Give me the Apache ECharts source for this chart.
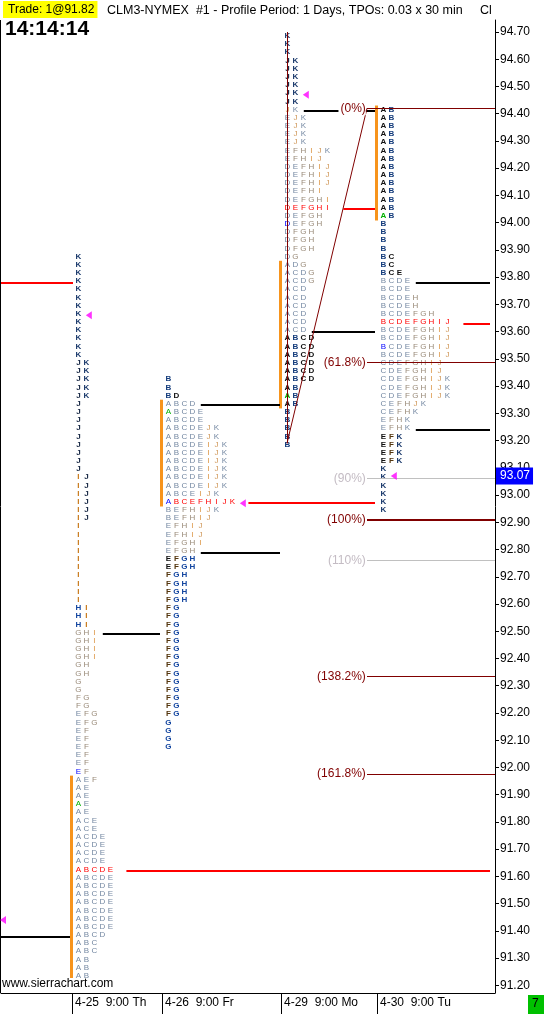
<!DOCTYPE html>
<html>
<head>
<meta charset="utf-8">
<script src="https://cdn.jsdelivr.net/npm/echarts@6/dist/echarts.min.js"></script>
<style>
html, body { margin: 0; padding: 0; background: #fff; }
#echart { width: 545px; height: 1014px; }
</style>
</head>
<body>
<div id="echart"></div>
<script>
var myChart = echarts.init(document.getElementById("echart"));

// price scale labels
var priceTicks = [91.20, 91.30, 91.40, 91.50, 91.60, 91.70, 91.80, 91.90, 92.00, 92.10,
	92.20, 92.30, 92.40, 92.50, 92.60, 92.70, 92.80, 92.90, 93.00, 93.10, 93.20, 93.30,
	93.40, 93.50, 93.60, 93.70, 93.80, 93.90, 94.00, 94.10, 94.20, 94.30, 94.40, 94.50,
	94.60, 94.70];

// session starts (in TPO column units) and their labels
var dayStarts = [8.875, 20.125, 35, 47];
var dayLabels = ['4-25  9:00 Th', '4-26  9:00 Fr', '4-29  9:00 Mo', '4-30  9:00 Tu'];

// top price of each profile, rows go down 0.03 each
var profileTops = [93.87, 93.42, 94.68, 94.41];

var rows0425 = [
	'K', 'K', 'K', 'K', 'K', 'K', 'K', 'K', 'K', 'K', 'K', 'K', 'K',
	'JK', 'JK', 'JK', 'JK', 'JK',
	'J', 'J', 'J', 'J', 'J', 'J', 'J', 'J', 'J',
	'IJ', 'IJ', 'IJ', 'IJ', 'IJ', 'IJ',
	'I', 'I', 'I', 'I', 'I', 'I', 'I', 'I', 'I', 'I',
	'HI', 'HI', 'HI',
	'GHI', 'GHI', 'GHI', 'GHI',
	'GH', 'GH', 'G', 'G', 'FG', 'FG', 'EFG', 'EFG',
	'EF', 'EF', 'EF', 'EF', 'EF', 'EF',
	'AEF', 'AE', 'AE', 'AE', 'AE',
	'ACE', 'ACE',
	'ACDE', 'ACDE', 'ACDE', 'ACDE',
	'ABCDE',
	'ABCDE', 'ABCDE', 'ABCDE', 'ABCDE', 'ABCDE', 'ABCDE', 'ABCDE',
	'ABCD', 'ABC', 'ABC', 'AB', 'AB', 'AB'
];

var rows0426 = [
	'B', 'B', 'BD', 'ABCD', 'ABCDE', 'ABCDE', 'ABCDEJK', 'ABCDEJK',
	'ABCDEIJK', 'ABCDEIJK', 'ABCDEIJK', 'ABCDEIJK', 'ABCDEIJK', 'ABCDEIJK',
	'ABCEIJK', 'ABCEFHIJK',
	'BEFHIJK', 'BEFHIJ', 'EFHIJ', 'EFHIJ', 'EFGHI',
	'EFGH', 'EFGH', 'EFGH',
	'FGH', 'FGH', 'FGH', 'FGH',
	'FG', 'FG', 'FG', 'FG', 'FG', 'FG', 'FG', 'FG', 'FG', 'FG', 'FG', 'FG', 'FG', 'FG',
	'G', 'G', 'G', 'G'
];

var rows0429 = [
	'K', 'K', 'K',
	'JK', 'JK', 'JK', 'JK', 'JK', 'JK', 'JK',
	'EJK', 'EJK', 'EJK', 'EJK',
	'EFHIJK', 'EFHIJ', 'DEFHIJ', 'DEFHIJ', 'DEFHIJ', 'DEFHI',
	'DEFGHI', 'DEFGHI', 'DEFGH', 'DEFGH',
	'DFGH', 'DFGH', 'DFGH', 'DG', 'ADG', 'ACDG', 'ACDG',
	'ACD', 'ACD', 'ACD', 'ACD', 'ACD', 'ACD',
	'ABCD', 'ABCD', 'ABCD', 'ABCD', 'ABCD', 'ABCD',
	'AB', 'AB', 'AB',
	'B', 'B', 'B', 'B', 'B'
];

var rows0430 = [
	'AB', 'AB', 'AB', 'AB', 'AB', 'AB', 'AB', 'AB', 'AB', 'AB', 'AB', 'AB', 'AB', 'AB',
	'B', 'B', 'B', 'B', 'BC', 'BC', 'BCE', 'BCDE', 'BCDE', 'BCDEH', 'BCDEH',
	'BCDEFGH', 'BCDEFGHIJ', 'BCDEFGHIJ', 'BCDEFGHIJ', 'BCDEFGHIJ', 'BCDEFGHIJ',
	'CDEFGHIJ', 'CDEFGHIJ', 'CDEFGHIJK', 'CDEFGHIJK', 'CDEFGHIJK',
	'CEFHJK', 'CEFHK', 'EFHK', 'EFHK',
	'EFK', 'EFK', 'EFK', 'EFK',
	'K', 'K', 'K', 'K', 'K', 'K'
];

var profileRows = [rows0425, rows0426, rows0429, rows0430];

// point of control, value area high / low, close of each profile
var pocs = [91.62, 92.97, 94.05, 93.63];
var vahs = [92.49, 93.33, 94.41, 93.78];
var vals = [91.20, 92.79, 93.60, 93.24];
var closes = [93.66, 92.97, 94.47, 93.07];

// where extension lines stop
var pocEnds = [61.125, 46.75, 46.75, 61.125];
var vaEnds = [19.875, 34.875, 46.75, 61.125];

// marked letters: [profile, price, letter]
var openMarks = [[0, 91.86, 'A'], [1, 93.30, 'A'], [2, 93.36, 'A'], [3, 94.02, 'A']];
var blueMarks = [[0, 91.98, 'E'], [1, 92.97, 'A'], [2, 93.99, 'D'], [3, 93.54, 'B']];

// levels carried over from the session before the chart
var priorPoc = 93.78;
var priorVal = 91.38;
var priorClose = 91.44;

// fib extension drawing: p1, p2, p3 and levels
var fibHigh = 94.70;
var fibLow = 93.19;
var fibAnchor = 94.42;
var fibCols = [35.75, 45.75];
var fibLevels = [0, 61.8, 90, 100, 110, 138.2, 161.8];

var lastPrice = 93.07;

var ROW = 0.03;
var LETTER_OFF = 0.8;
var X_MAX = 61.75;
var FONT = '"Liberation Sans", Arial, sans-serif';

var lightColors = { A: '#7488a2', B: '#7488a2', C: '#7488a2', D: '#7488a2', E: '#7488a2',
	F: '#998a78', G: '#998a78', H: '#998a78', I: '#dc9442', J: '#d0985a', K: '#7488a2' };
var darkColors = { A: '#111111', B: '#143c7c', C: '#111111', D: '#111111', E: '#111111',
	F: '#54360e', G: '#1446a0', H: '#1446a0', I: '#c87818', J: '#1c2c48', K: '#1b3a6c' };

function same(a, b) { return Math.abs(a - b) < 1e-6; }

function findMark(list, p, price, ch) {
	for (var i = 0; i < list.length; i++) {
		if (list[i][0] === p && same(list[i][1], price) && list[i][2] === ch) return true;
	}
	return false;
}

function seg(x1, y1, x2, y2, color, width) {
	return { coords: [[x1, y1], [x2, y2]], lineStyle: { color: color, width: width, opacity: 1 } };
}

var tpoData = [];
var tpoInfo = [];
var lineData = [];
var rowLen = [];

profileRows.forEach(function (rows, p) {
	var lens = {};
	var aTop = null, aBot = null;
	rows.forEach(function (s, r) {
		var price = +(profileTops[p] - r * ROW).toFixed(2);
		lens[price.toFixed(2)] = s.length;
		var outside = price > vahs[p] + 1e-6 || price < vals[p] - 1e-6;
		var isPoc = same(price, pocs[p]);
		if (s.indexOf('A') >= 0) {
			if (aTop === null) aTop = price;
			aBot = price;
		}
		for (var i = 0; i < s.length; i++) {
			var ch = s[i];
			var color = outside ? darkColors[ch] : lightColors[ch];
			var bold = outside;
			if (isPoc) { color = '#ff0000'; bold = false; }
			if (findMark(openMarks, p, price, ch)) color = '#00b000';
			if (findMark(blueMarks, p, price, ch)) color = '#0000ff';
			tpoData.push([dayStarts[p] + LETTER_OFF + i, price]);
			tpoInfo.push({ ch: ch, color: color, bold: bold });
		}
	});
	rowLen.push(lens);

	// opening range bar
	lineData.push(seg(dayStarts[p] - 0.05, aTop + 0.02, dayStarts[p] - 0.05, aBot - 0.012, '#f7941d', 3));
});

function lastCol(p, price) {
	return dayStarts[p] + LETTER_OFF + rowLen[p][price.toFixed(2)] - 1;
}

// extension lines
for (var p = 0; p < 4; p++) {
	lineData.push(seg(lastCol(p, pocs[p]) + 2, pocs[p], pocEnds[p], pocs[p], '#ff0000', 2));
	[vahs[p], vals[p]].forEach(function (lv) {
		if (rowLen[p][lv.toFixed(2)]) {
			lineData.push(seg(lastCol(p, lv) + 1.05, lv, vaEnds[p], lv, '#000000', 2));
		}
	});
}
lineData.push(seg(0, priorPoc, 9, priorPoc, '#ff0000', 2));
lineData.push(seg(0, priorVal, 8.625, priorVal, '#000000', 2));

// fib drawing
var fibRange = fibHigh - fibLow;
var fibLines = [];
fibLines.push(seg(fibCols[0], fibHigh, fibCols[0], fibLow, '#800000', 1));
fibLines.push(seg(fibCols[0], fibLow, fibCols[1], fibAnchor, '#800000', 1));
var fibLabels = [];
fibLevels.forEach(function (lv) {
	var price = fibAnchor - fibRange * lv / 100;
	var grey = (lv === 90 || lv === 110);
	fibLines.push(seg(fibCols[1], price, X_MAX, price, grey ? '#c0c0c0' : '#800000', lv === 100 ? 2 : 1));
	fibLabels.push({ value: [fibCols[1] - 0.15, price], text: '(' + lv + '%)', color: grey ? '#c4bcc4' : '#800000' });
});

// close markers
var closePoints = [[0.25, priorClose]];
for (var q = 0; q < 4; q++) {
	var rp = +(Math.round(closes[q] / ROW) * ROW).toFixed(2);
	closePoints.push([lastCol(q, rp) + 1.3, closes[q]]);
}

option = {
	animation: false,
	grid: { left: 1, right: 50, top: 20, bottom: 21, outerBoundsMode: 'none' },
	xAxis: {
		type: 'value',
		min: 0,
		max: X_MAX,
		axisLine: { show: true, onZero: false, lineStyle: { color: '#000', width: 1 } },
		axisTick: { show: true, customValues: dayStarts, length: 21, inside: false, lineStyle: { color: '#000' } },
		axisLabel: {
			show: true,
			customValues: dayStarts,
			formatter: function (v) {
				for (var i = 0; i < dayStarts.length; i++) {
					if (same(v, dayStarts[i])) return dayLabels[i];
				}
				return '';
			},
			align: 'left',
			padding: [0, 0, 0, 3],
			margin: 4,
			color: '#000',
			fontSize: 12,
			fontFamily: FONT
		},
		splitLine: { show: false }
	},
	yAxis: {
		type: 'value',
		position: 'right',
		min: 91.172,
		max: 94.744,
		axisLine: { show: true, onZero: false, lineStyle: { color: '#000', width: 1 } },
		axisTick: { show: true, customValues: priceTicks, length: 4, lineStyle: { color: '#000' } },
		axisLabel: {
			show: true,
			customValues: priceTicks,
			formatter: function (v) { return v.toFixed(2); },
			margin: 5,
			color: '#000',
			fontSize: 12,
			fontFamily: FONT
		},
		splitLine: { show: false }
	},
	series: [
		{
			type: 'custom',
			name: 'tpo',
			clip: false,
			z: 2,
			data: tpoData,
			encode: { x: 0, y: 1 },
			renderItem: function (params, api) {
				var pt = api.coord([api.value(0), api.value(1)]);
				var info = tpoInfo[params.dataIndex];
				return {
					type: 'text',
					x: pt[0],
					y: pt[1] - 1.5,
					style: {
						text: info.ch,
						fill: info.color,
						font: (info.bold ? 'bold ' : '') + '8px ' + FONT,
						align: 'center',
						verticalAlign: 'middle'
					}
				};
			}
		},
		{
			type: 'lines',
			coordinateSystem: 'cartesian2d',
			silent: true,
			z: 3,
			lineStyle: { opacity: 1 },
			data: lineData
		},
		{
			type: 'lines',
			coordinateSystem: 'cartesian2d',
			silent: true,
			z: 4,
			lineStyle: { opacity: 1 },
			data: fibLines
		},
		{
			type: 'custom',
			name: 'fibLabels',
			clip: false,
			z: 5,
			data: fibLabels.map(function (d) { return d.value; }),
			encode: { x: 0, y: 1 },
			renderItem: function (params, api) {
				var pt = api.coord([api.value(0), api.value(1)]);
				var d = fibLabels[params.dataIndex];
				return {
					type: 'text',
					x: pt[0],
					y: pt[1],
					style: {
						text: d.text,
						fill: d.color,
						font: '12px ' + FONT,
						align: 'right',
						verticalAlign: 'middle',
						backgroundColor: '#fff',
						padding: [1, 0, 1, 2]
					}
				};
			}
		},
		{
			type: 'scatter',
			silent: true,
			z: 6,
			symbol: 'triangle',
			symbolRotate: 90,
			symbolSize: [8, 6],
			itemStyle: { color: '#ff00ff' },
			data: closePoints
		},
		{
			type: 'custom',
			name: 'last',
			clip: false,
			z: 7,
			data: [[X_MAX, lastPrice]],
			encode: { x: 0, y: 1 },
			renderItem: function (params, api) {
				var pt = api.coord([api.value(0), api.value(1)]);
				return {
					type: 'text',
					x: pt[0] + 1,
					y: pt[1],
					style: {
						text: lastPrice.toFixed(2),
						fill: '#fff',
						font: '12px ' + FONT,
						verticalAlign: 'middle',
						backgroundColor: '#0000ff',
						padding: [3, 3, 2, 4]
					}
				};
			}
		}
	],
	graphic: [
		{ type: 'line', shape: { x1: 0.5, y1: 20, x2: 0.5, y2: 993 }, style: { stroke: '#000', lineWidth: 1 } },
		{ type: 'text', left: 3, top: 1, z: 10,
			style: { text: 'Trade: 1@91.82', font: '12px ' + FONT, fill: '#000', backgroundColor: '#ffff00', padding: [3, 3, 2, 5] } },
		{ type: 'text', left: 107, top: 4, z: 10,
			style: { text: 'CLM3-NYMEX  #1 - Profile Period: 1 Days, TPOs: 0.03 x 30 min     Cl', font: '12.5px ' + FONT, fill: '#000' } },
		{ type: 'text', left: 5, top: 19, z: 10,
			style: { text: '14:14:14', font: 'bold 21px ' + FONT, fill: '#000' } },
		{ type: 'text', left: 2, top: 978, z: 10,
			style: { text: 'www.sierrachart.com', font: '12px ' + FONT, fill: '#000', backgroundColor: '#fff', padding: [0, 2, 1, 0] } },
		{ type: 'rect', shape: { x: 528, y: 995, width: 16, height: 19 }, style: { fill: '#00c000' }, z: 10 },
		{ type: 'text', left: 532, top: 998, z: 11, style: { text: '7', font: '12px ' + FONT, fill: '#000' } }
	]
};

myChart.setOption(option);
</script>
</body>
</html>
